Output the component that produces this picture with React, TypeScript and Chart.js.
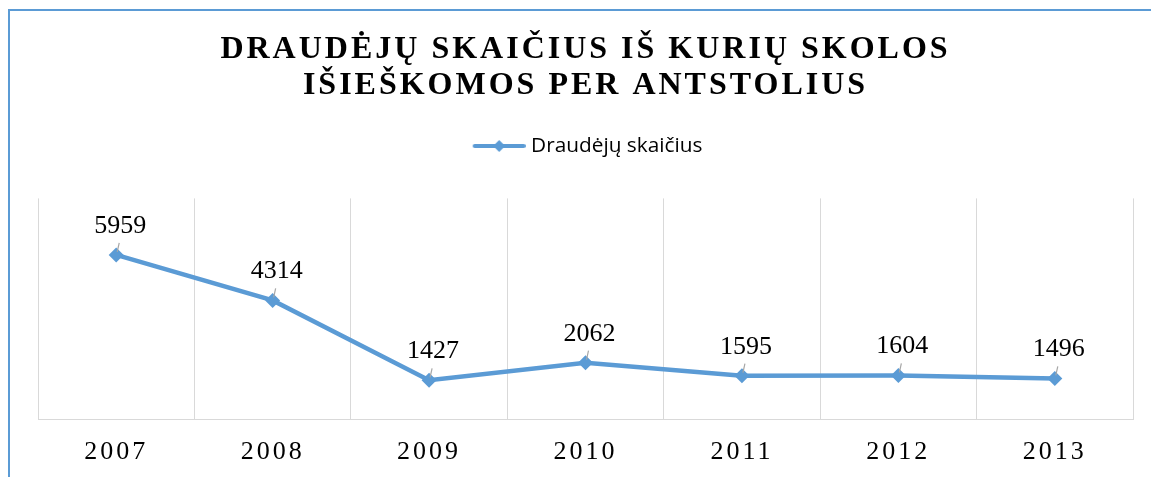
import React, { useEffect, useRef } from 'react';
import { Chart, registerables } from 'chart.js';

Chart.register(...registerables);

// ---- data ----
const years = ['2007', '2008', '2009', '2010', '2011', '2012', '2013'];
const insuredCounts = [5959, 4314, 1427, 2062, 1595, 1604, 1496];
const seriesName = 'Draudėjų skaičius';
const titleLines = ['DRAUDĖJŲ SKAIČIUS IŠ KURIŲ SKOLOS', 'IŠIEŠKOMOS PER ANTSTOLIUS'];
const yMin = 0;
const yMax = 8000;

// ---- styles ----
const BLUE = '#5B9BD5';
const GRID = '#D9D9D9';
const SERIF = '"Liberation Serif", "Times New Roman", serif';
const LEGEND_GAP = 32;

function withSpacing(ctx: any, spacing: string, fn: () => void) {
  const prev = ctx.letterSpacing;
  ctx.letterSpacing = spacing;
  try {
    fn();
  } finally {
    ctx.letterSpacing = prev || '0px';
  }
}

const layoutPatchPlugin = {
  id: 'layoutPatch',
  afterInit(chart: any) {
    const tb = chart.titleBlock;
    if (tb && !tb.__patched) {
      const orig = tb.draw.bind(tb);
      tb.draw = (...a: any[]) => withSpacing(chart.ctx, '3px', () => orig(...a));
      tb.__patched = true;
    }
    const lg = chart.legend;
    if (lg && !lg.__patched) {
      const origFit = lg.fit.bind(lg);
      lg.fit = () => {
        origFit();
        lg.height += LEGEND_GAP;
      };
      lg.__patched = true;
    }
  },
  beforeDraw(chart: any) {
    const xs = chart.scales.x;
    if (xs && !xs.__patched) {
      const orig = xs.drawLabels.bind(xs);
      xs.drawLabels = (a: any) => withSpacing(chart.ctx, '3px', () => orig(a));
      xs.__patched = true;
    }
  },
};

const valueLabelPlugin = {
  id: 'valueLabels',
  afterDatasetsDraw(chart: any) {
    const ctx = chart.ctx;
    const meta = chart.getDatasetMeta(0);
    const data = chart.data.datasets[0].data;
    ctx.save();
    meta.data.forEach((el: any, i: number) => {
      const { x, y } = el.getProps(['x', 'y'], true);
      ctx.strokeStyle = '#A6A6A6';
      ctx.lineWidth = 1.2;
      ctx.beginPath();
      ctx.moveTo(x + 1, y - 3);
      ctx.lineTo(x + 3, y - 12);
      ctx.stroke();
      ctx.font = '26px ' + SERIF;
      ctx.fillStyle = '#000';
      ctx.textAlign = 'center';
      ctx.textBaseline = 'alphabetic';
      ctx.fillText(String(data[i]), x + 4, y - 22);
    });
    ctx.restore();
  },
};

function makeLegendIcon() {
  const c = document.createElement('canvas');
  c.width = 62;
  c.height = 14;
  const g = c.getContext('2d')!;
  g.strokeStyle = BLUE;
  g.lineWidth = 4;
  g.lineCap = 'round';
  g.beginPath();
  g.moveTo(11, 7);
  g.lineTo(60, 7);
  g.stroke();
  g.fillStyle = BLUE;
  g.beginPath();
  g.moveTo(29.5, 7);
  g.lineTo(35.5, 1);
  g.lineTo(41.5, 7);
  g.lineTo(35.5, 13);
  g.closePath();
  g.fill();
  return c;
}

export default function App() {
  const ref = useRef<HTMLCanvasElement>(null);

  useEffect(() => {
    const chart = new Chart(ref.current as HTMLCanvasElement, {
      type: 'line',
      data: {
        labels: years,
        datasets: [
          {
            label: seriesName,
            data: insuredCounts,
            borderColor: BLUE,
            backgroundColor: BLUE,
            borderWidth: 4.5,
            pointStyle: 'rectRot',
            pointRadius: 7.5,
            pointBackgroundColor: BLUE,
            pointBorderColor: BLUE,
            pointBorderWidth: 0,
            tension: 0,
            fill: false,
          },
        ],
      },
      options: {
        responsive: false,
        animation: false,
        events: [],
        layout: { padding: { left: 28, right: 23, top: 0, bottom: -8 } },
        plugins: {
          title: {
            display: true,
            text: titleLines,
            color: '#000',
            font: { family: SERIF, size: 32, weight: 'bold', lineHeight: 1.15 },
            padding: { top: 20, bottom: 21 },
          },
          legend: {
            display: true,
            position: 'top',
            labels: {
              usePointStyle: true,
              pointStyle: makeLegendIcon() as any,
              pointStyleWidth: 52,
              padding: 10,
              color: '#000',
              font: { family: '"Open Sans", sans-serif', size: 20.8 },
            },
          },
          tooltip: { enabled: false },
        },
        scales: {
          x: {
            offset: true,
            grid: { display: true, offset: true, color: GRID, lineWidth: 1, drawTicks: false },
            border: { display: true, color: GRID, width: 1 },
            ticks: {
              color: '#000',
              padding: 17,
              maxRotation: 0,
              autoSkip: false,
              font: { family: SERIF, size: 26 },
            },
          },
          y: { display: false, min: yMin, max: yMax },
        },
      } as any,
      plugins: [layoutPatchPlugin, valueLabelPlugin] as any,
    });
    return () => chart.destroy();
  }, []);

  return (
    <div
      style={{
        position: 'fixed',
        left: 0,
        top: 0,
        width: '100vw',
        height: '100vh',
        overflow: 'hidden',
        background: '#fff',
      }}
    >
      <div
        style={{
          position: 'absolute',
          left: 8,
          top: 9,
          width: 1160,
          height: 480,
          borderLeft: '2px solid ' + BLUE,
          borderTop: '2px solid ' + BLUE,
        }}
      >
        <canvas ref={ref} width={1146} height={466} style={{ display: 'block', width: 1146, height: 466 }} />
      </div>
    </div>
  );
}
